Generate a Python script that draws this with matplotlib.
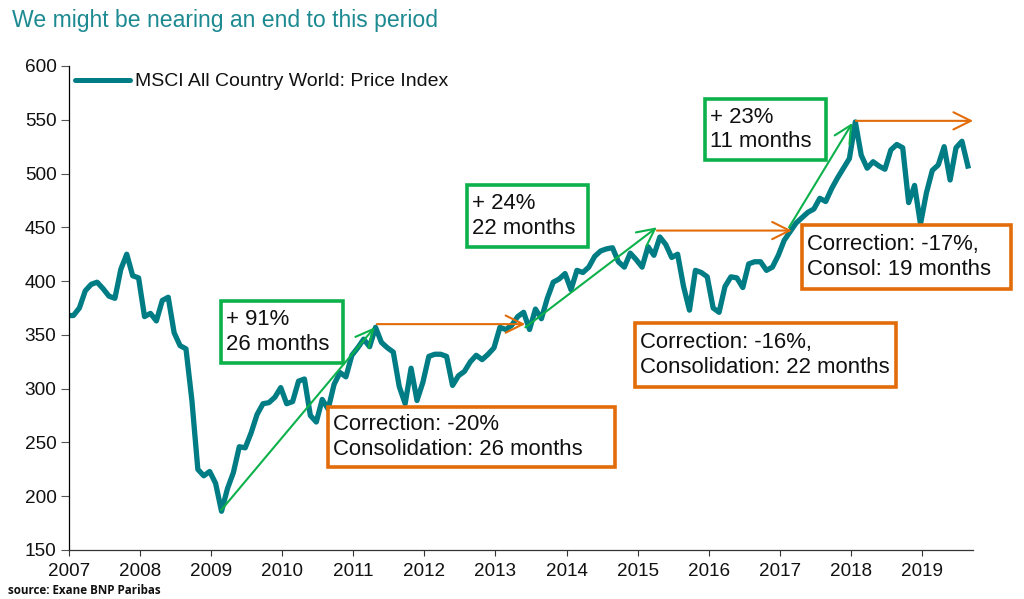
import matplotlib
matplotlib.use("Agg")
import matplotlib.pyplot as plt
from matplotlib.patches import Rectangle
from matplotlib.lines import Line2D

plt.rcParams['font.family'] = ['Liberation Sans', 'DejaVu Sans']

START_YEAR = 2007
years = list(range(2007, 2020))
yticks = [150, 200, 250, 300, 350, 400, 450, 500, 550, 600]
series_name = "MSCI All Country World: Price Index"
msci = [368, 368, 375, 391, 397, 399, 393, 386, 384, 411, 425, 405, 403, 367, 370, 363,
        382, 385, 352, 340, 337, 289, 225, 219, 223, 212, 186, 207, 222, 246, 245, 259,
        276, 286, 287, 292, 301, 286, 288, 307, 309, 275, 269, 290, 281, 304, 315, 311,
        331, 338, 346, 339, 357, 343, 338, 334, 302, 286, 319, 289, 306, 330, 332, 332,
        330, 303, 312, 316, 325, 331, 327, 332, 338, 357, 355, 359, 367, 371, 355, 374,
        365, 384, 399, 402, 407, 392, 410, 408, 413, 423, 428, 430, 431, 418, 413, 426,
        420, 413, 432, 424, 441, 434, 422, 425, 395, 373, 410, 408, 404, 375, 371, 395,
        404, 403, 394, 416, 418, 418, 410, 413, 424, 438, 446, 454, 459, 464, 467, 477,
        474, 486, 496, 505, 514, 548, 517, 505, 511, 507, 504, 522, 527, 524, 473, 489,
        453, 482, 503, 508, 525, 494, 524, 530, 507]
dates = [START_YEAR + (i - 0.25) / 12 for i in range(len(msci))]

green_arrows = [((2009.14, 187), (2011.30, 357)),
                ((2013.42, 357), (2015.27, 450)),
                ((2017.13, 450), (2018.02, 547))]
orange_arrows = [((2011.33, 360), (2013.42, 360)),
                 ((2015.27, 447), (2017.17, 447)),
                 ((2018.07, 549), (2019.72, 549))]

TEAL = "#007c85"
GREEN = "#0db14b"
ORANGE = "#e36c0a"
W, H = 1024, 599

# (label, edge colour, left, top, right, bottom) in pixels
boxes = [("+ 91%\n26 months", GREEN, 221, 301, 343, 363),
         ("+ 24%\n22 months", GREEN, 467, 185, 588, 247),
         ("+ 23%\n11 months", GREEN, 705, 99, 826, 160),
         ("Correction: -20%\nConsolidation: 26 months", ORANGE, 328, 407, 615, 467),
         ("Correction: -16%,\nConsolidation: 22 months", ORANGE, 635, 323, 896, 387),
         ("Correction: -17%,\nConsol: 19 months", ORANGE, 802, 225, 1011, 289)]

fig = plt.figure(figsize=(W / 100, H / 100), dpi=100)
ax = fig.add_axes([69 / W, 1 - 550 / H, (973 - 69) / W, (550 - 66) / H])
ax.set_xlim(2007, 2007 + (973 - 69) / 71.08)
ax.set_ylim(150, 600)
ax.plot(dates, msci, color=TEAL, lw=3.8, solid_joinstyle='round', zorder=2, clip_on=True)

for color, arrows in ((GREEN, green_arrows), (ORANGE, orange_arrows)):
    for a, b in arrows:
        ax.annotate("", xy=b, xytext=a, zorder=3, annotation_clip=False,
                    arrowprops=dict(arrowstyle="->,head_length=1.25,head_width=0.62", color=color,
                                    lw=1.5, shrinkA=0, shrinkB=0))

ax.set_xticks(years)
ax.set_xticklabels([str(y) for y in years])
ax.set_yticks(yticks)
ax.tick_params(axis='y', labelsize=13.7, length=6, width=0.8, color="#555555", labelcolor="#111111", pad=3)
ax.tick_params(axis='x', labelsize=13.6, length=4, width=0.8, color="#333333", labelcolor="#111111", pad=5)
for s in ('top', 'right'):
    ax.spines[s].set_visible(False)
ax.spines['left'].set_linewidth(0.9)
ax.spines['bottom'].set_linewidth(0.9)
ax.spines['bottom'].set_color("#333333")

fig.add_artist(Line2D([75 / W, 130 / W], [1 - 80 / H] * 2, color=TEAL, lw=3.6, solid_capstyle='round'))
fig.text(135 / W, 1 - 81 / H, series_name, fontsize=14, color="#111111", va='center')

fig.text(12 / W, 1 - 20 / H, "We might be nearing an end to this period", fontsize=16.6,
         color="#1d8a92", va='center')
fig.text(8 / W, 1 - 591 / H, "source: Exane BNP Paribas", fontsize=8.4, fontweight='bold',
         family=['Open Sans', 'DejaVu Sans'], color="#111111", va='center')

for label, col, l, t, r, b in boxes:
    fig.add_artist(Rectangle((l / W, 1 - b / H), (r - l) / W, (b - t) / H, transform=fig.transFigure,
                             facecolor='white', edgecolor=col, lw=2.6, zorder=4))
    fig.text((l + 5) / W, 1 - (t + b) / 2 / H, label, fontsize=15.9, color="#111111", va='center',
             linespacing=1.2, zorder=5)

fig.savefig("out.png", dpi=100)
